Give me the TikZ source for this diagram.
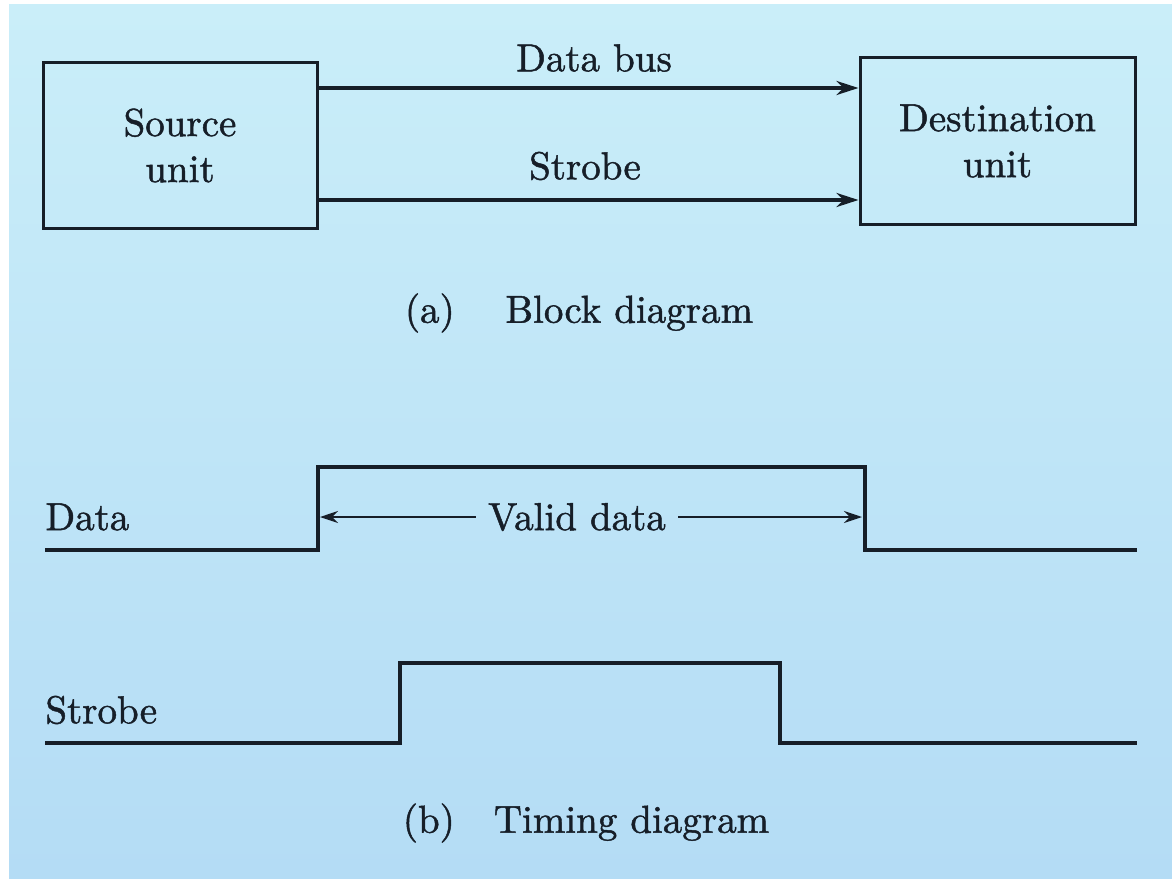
\documentclass[tikz,border=0pt]{standalone}
\usepackage{fontspec}
\usetikzlibrary{arrows.meta}
% slightly heavier roman for all labels
\newfontface\labelfont{lmroman10-regular.otf}[FakeBold=1.2]
\definecolor{bgtop}{RGB}{202,238,249}
\definecolor{bgbot}{RGB}{180,220,245}
\definecolor{ink}{RGB}{22,30,40}
\begin{document}
\begin{tikzpicture}[x=0.5pt,y=-0.5pt,
  txt/.style={font=\labelfont\fontsize{19.5}{23}\selectfont, text=ink, inner sep=1pt},
  unitbox/.style={draw=ink, line width=1.5pt, txt, align=center,
    minimum width=137pt, minimum height=83pt},
  bus/.style={draw=ink, line width=2pt, -{Stealth[length=11pt,width=7pt]}},
  wave/.style={draw=ink, line width=2pt, line join=miter},
  span/.style={draw=ink, line width=0.8pt, -{Stealth[length=9pt,width=6pt]}}]
% page and backdrop
\useasboundingbox (0,0) rectangle (1172,883);
\fill[white] (0,0) rectangle (1172,883);
\shade[top color=bgtop, bottom color=bgbot] (9,5) rectangle (1172,878);

% (a) block diagram
\node[unitbox] (src) at (180,145.5) {Source\\unit};
\node[unitbox, minimum width=137.5pt] (dst) at (997.5,141) {Destination\\unit};
\coordinate (busy) at (600,88);
\coordinate (stby) at (600,200);
\draw[bus] (src.east |- busy) -- (dst.west |- busy);
\draw[bus] (src.east |- stby) -- (dst.west |- stby);
\node[txt] (buslbl) at (594,58) {Data bus};
\node[txt] (stblbl) at (585,166) {Strobe};
\node[txt] (capa) at (579,313) {(a)\hspace{1.3em}Block diagram};

% (b) timing diagram
\coordinate (d0) at (45,550);
\coordinate (d1) at (318,550);
\coordinate (d2) at (318,467);
\coordinate (d3) at (865,467);
\coordinate (d4) at (865,550);
\coordinate (d5) at (1137,550);
\draw[wave] (d0) -- (d1) -- (d2) -- (d3) -- (d4) -- (d5);
\node[txt, anchor=west] (datalbl) at (43,517) {Data};

\node[txt, inner sep=6pt] (valid) at (577,517) {Valid data};
\coordinate (vl) at (320,517);
\coordinate (vr) at (862,517);
\draw[span] (valid.west) -- (vl);
\draw[span] (valid.east) -- (vr);

\coordinate (s0) at (45,743);
\coordinate (s1) at (400,743);
\coordinate (s2) at (400,663);
\coordinate (s3) at (780,663);
\coordinate (s4) at (780,743);
\coordinate (s5) at (1137,743);
\draw[wave] (s0) -- (s1) -- (s2) -- (s3) -- (s4) -- (s5);
\node[txt, anchor=west] (strlbl) at (43,710) {Strobe};

\node[txt] (capb) at (586,823) {(b)\hspace{1.0em}Timing diagram};
\end{tikzpicture}
\end{document}
